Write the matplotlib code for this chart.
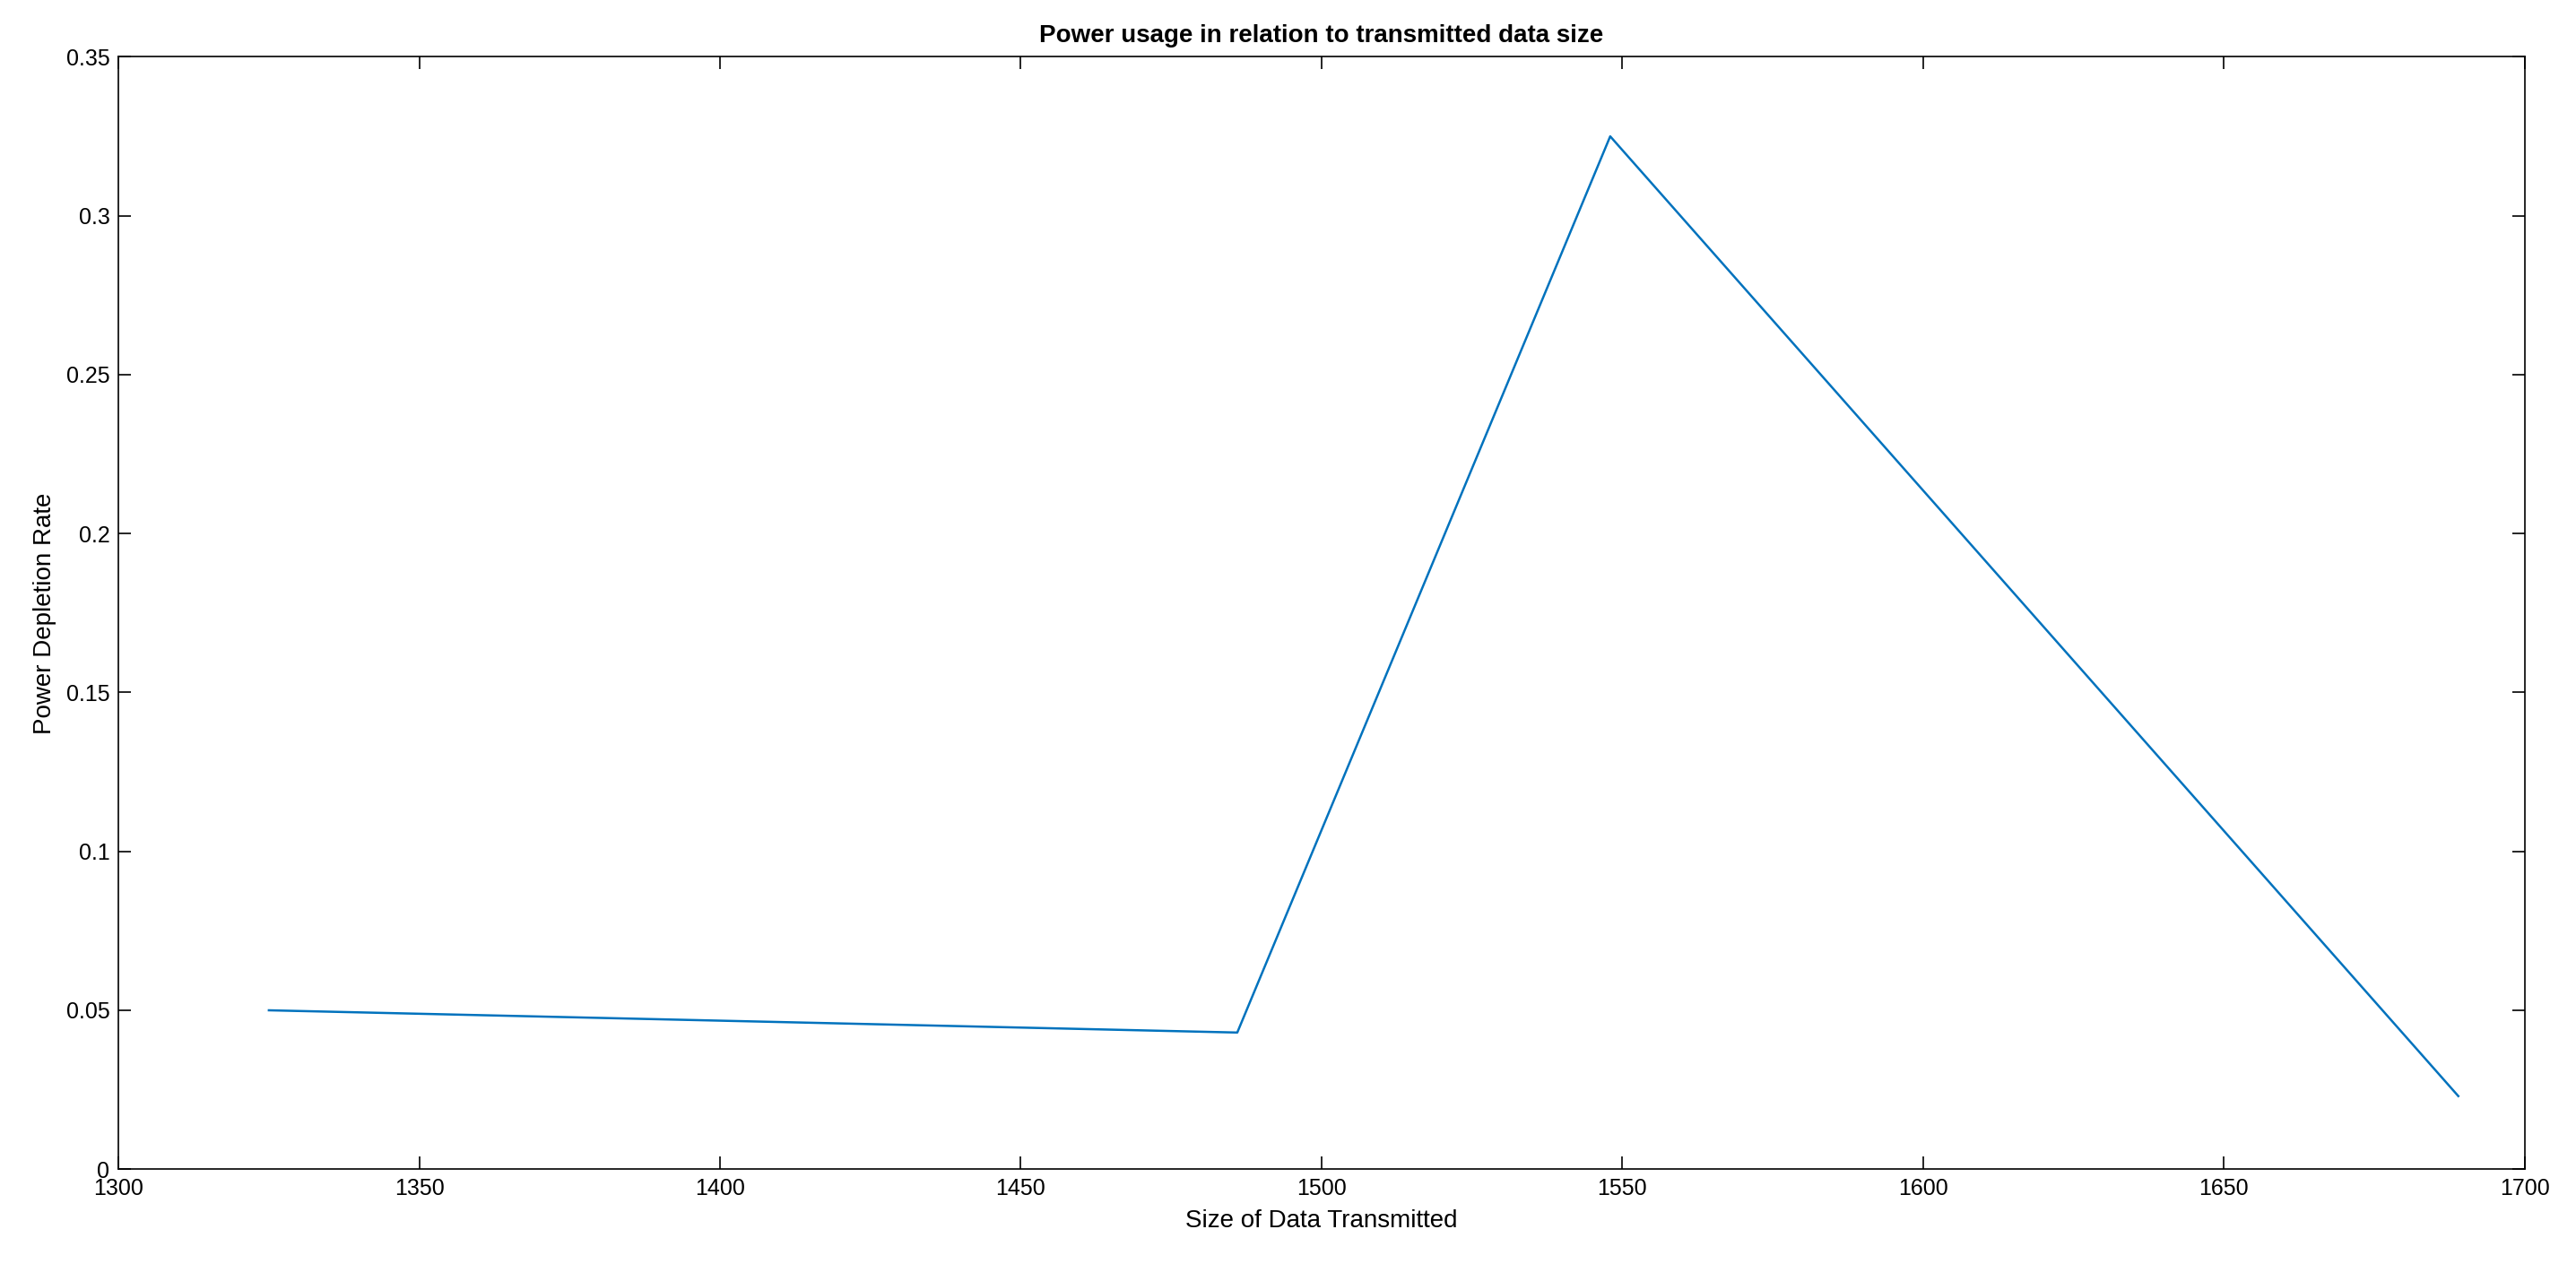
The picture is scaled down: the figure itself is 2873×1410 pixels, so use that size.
import matplotlib
matplotlib.use("Agg")
import matplotlib.pyplot as plt

data_size = [1325, 1486, 1548, 1689]
depletion = [0.050, 0.043, 0.325, 0.023]
xticks = [1300, 1350, 1400, 1450, 1500, 1550, 1600, 1650, 1700]
yticks = [0, 0.05, 0.1, 0.15, 0.2, 0.25, 0.3, 0.35]
yticklabels = ["0", "0.05", "0.1", "0.15", "0.2", "0.25", "0.3", "0.35"]

plt.rcParams['font.family'] = ['Arial', 'Liberation Sans', 'DejaVu Sans']
fig = plt.figure(figsize=(14.365, 7.05), dpi=200)
ax = fig.add_axes([0.046, 0.075, 0.934, 0.88])
ax.plot(data_size, depletion, color='#0072BD', linewidth=0.9)
ax.set_xlim(1300, 1700)
ax.set_ylim(0, 0.35)
ax.set_xticks(xticks)
ax.set_yticks(yticks)
ax.set_yticklabels(yticklabels)
ax.tick_params(direction='in', top=True, right=True, labelsize=9, length=5, width=0.6)
for s in ax.spines.values():
    s.set_linewidth(0.6)
ax.set_xlabel("Size of Data Transmitted", fontsize=10)
ax.set_ylabel("Power Depletion Rate", fontsize=10)
ax.set_title("Power usage in relation to transmitted data size", fontsize=10, fontweight='bold')
fig.savefig("out.png", dpi=200)
